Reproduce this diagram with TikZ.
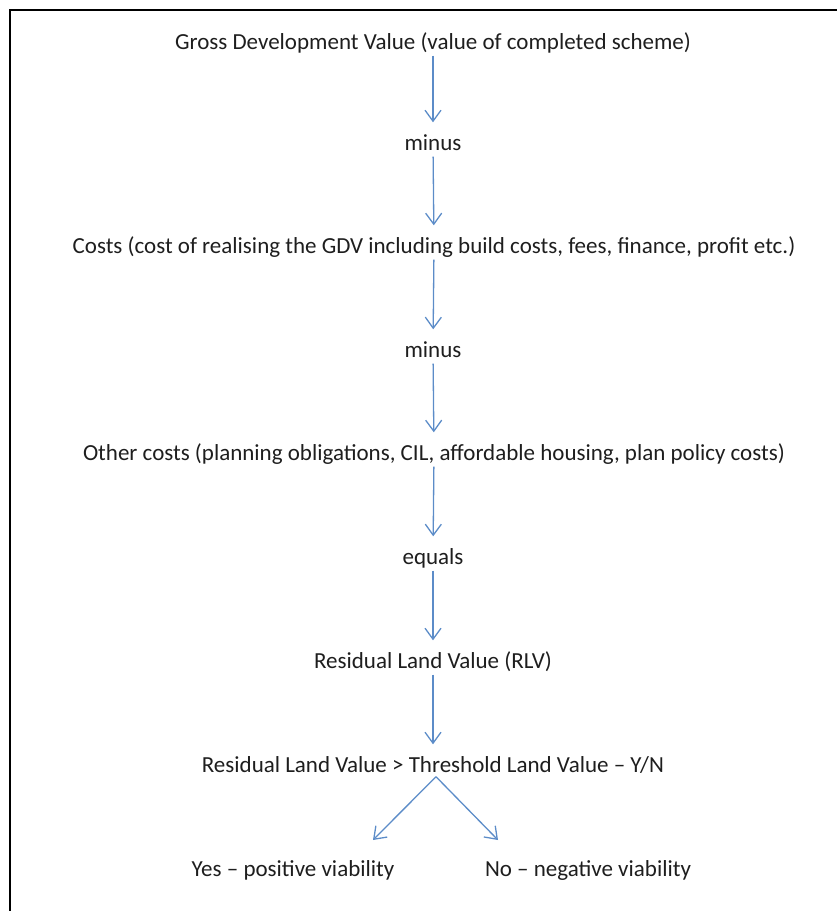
\documentclass[tikz,border=0pt]{standalone}
\usepackage{fontspec}
\setmainfont{Carlito}
\usetikzlibrary{arrows.meta}
\definecolor{arrowblue}{RGB}{92,140,200}
\definecolor{txt}{RGB}{30,30,30}
\tikzset{
  lbl/.style={inner sep=0pt, text height=18pt, text depth=3pt, text=txt, font=\fontsize{23}{27}\selectfont},
  flow/.style={draw=arrowblue, line width=1.3pt, -{Straight Barb[length=11pt,width=16pt,line width=1.3pt]}, shorten <=3pt, shorten >=10pt},
  branch/.style={draw=arrowblue, line width=1.3pt, -{Straight Barb[length=11pt,width=16pt,line width=1.3pt]}},
}
\begin{document}
\begin{tikzpicture}[x=1pt,y=1pt]
\useasboundingbox (0,0) rectangle (837,-911);
\draw[line width=2pt] (10,-911) -- (10,-10) -- (837,-10);
\node[lbl] (gdv) at (433,-42) {Gross Development Value (value of completed scheme)};
\node[lbl] (m1) at (433,-143) {minus};
\node[lbl] (costs) at (434,-246) {Costs (cost of realising the GDV including build costs, fees, finance, profit etc.)};
\node[lbl] (m2) at (433,-350) {minus};
\node[lbl] (other) at (434,-453) {Other costs (planning obligations, CIL, affordable housing, plan policy costs)};
\node[lbl] (eq) at (433,-557) {equals};
\node[lbl] (rlv) at (433,-661) {Residual Land Value (RLV)};
\node[lbl] (tlv) at (433,-765) {Residual Land Value > Threshold Land Value -- Y/N};
\node[lbl] (yes) at (293,-869) {Yes -- positive viability};
\node[lbl] (no) at (588,-869) {No -- negative viability};
\coordinate (ytip) at (373,-840);
\coordinate (ntip) at (498,-840);
\draw[flow] (gdv) -- (m1);
\draw[flow] (m1) -- (costs);
\draw[flow] (costs) -- (m2);
\draw[flow] (m2) -- (other);
\draw[flow] (other) -- (eq);
\draw[flow] (eq) -- (rlv);
\draw[flow] (rlv) -- (tlv);
\draw[branch] ([xshift=3pt,yshift=-1pt]tlv.south) -- (ytip);
\draw[branch] ([xshift=3pt,yshift=-1pt]tlv.south) -- (ntip);
\end{tikzpicture}
\end{document}
